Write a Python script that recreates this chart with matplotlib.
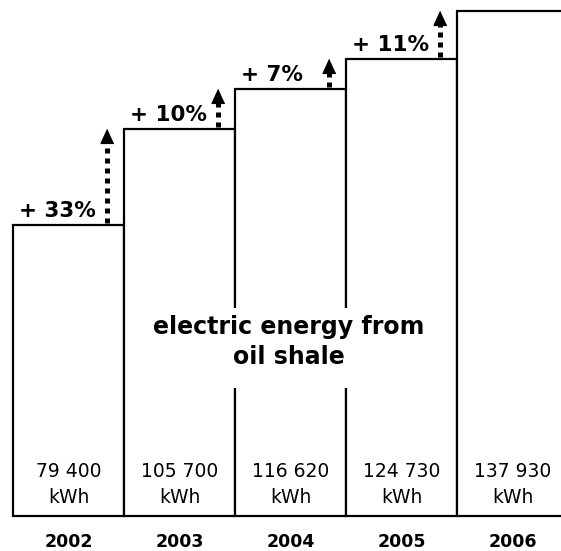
import matplotlib
matplotlib.use("Agg")
import matplotlib.pyplot as plt
from matplotlib.patches import Rectangle

plt.rcParams["font.family"] = ["DejaVu Sans"]

# 연도별 오일셰일 발전량 (kWh)
years = ["2002", "2003", "2004", "2005", "2006"]
energy = [79400, 105700, 116620, 124730, 137930]
value_labels = ["79 400", "105 700", "116 620", "124 730", "137 930"]
title_text = "electric energy from\noil shale"

fig = plt.figure(figsize=(5.61, 5.51), dpi=100)
ax = fig.add_axes([0, 0, 1, 1])
ax.set_axis_off()

# 1px ~ 273 kWh, 막대 폭 1 = 111px
kwh_px = 273.0
bar_px = 111.0
ax.set_xlim(-13 / bar_px, (561 - 13) / bar_px)
ax.set_ylim(-35 * kwh_px, 516 * kwh_px)

# 계단식 막대
for i, v in enumerate(energy):
    ax.add_patch(Rectangle((i, 0), 1, v, facecolor="white", edgecolor="black",
                           lw=1.6, zorder=2))

# 막대 안쪽 값 라벨 / 아래 연도
for i, (lab, yr) in enumerate(zip(value_labels, years)):
    ax.text(i + 0.5, 8700, lab + "\nkWh", ha="center", va="center", fontsize=13.5,
            linespacing=1.45, zorder=5)
    ax.text(i + 0.5, -26 * kwh_px, yr, ha="center", va="center", fontsize=12.5,
            fontweight="bold", zorder=5)

# 증가율 라벨 + 점선 화살표
head = [(0, 0), (-0.55, -1.2), (0.55, -1.2)]
for i in range(len(energy) - 1):
    cur, nxt = energy[i], energy[i + 1]
    pct = round((nxt / cur - 1) * 100)
    ax.annotate(f"+ {pct}%", (i + 0.05, cur), xytext=(0, 10), textcoords="offset points",
                ha="left", va="center", fontsize=15.5, fontweight="bold", zorder=5)
    ax_x = i + 1 - 0.15
    ax.plot([ax_x, ax_x], [cur + 2 * kwh_px, nxt - 12 * kwh_px], color="black", lw=3.6,
            ls=(0, (1, 1)), solid_capstyle="butt", dash_capstyle="butt", zorder=4)
    ax.plot([ax_x], [nxt], marker=head, markersize=20, color="black", lw=0, zorder=4)

# 가운데 설명 문구 — 흰 바탕으로 안쪽 세로선을 끊어 줌
ax.add_patch(Rectangle(((140 - 13) / bar_px, (516 - 388) * kwh_px), 300 / bar_px,
                       80 * kwh_px, facecolor="white", edgecolor="none", zorder=3))
ax.text((289 - 13) / bar_px, (516 - 342) * kwh_px, title_text, ha="center", va="center",
        fontsize=17, fontweight="bold", linespacing=1.3, zorder=6)

fig.savefig("out.png", dpi=100)
